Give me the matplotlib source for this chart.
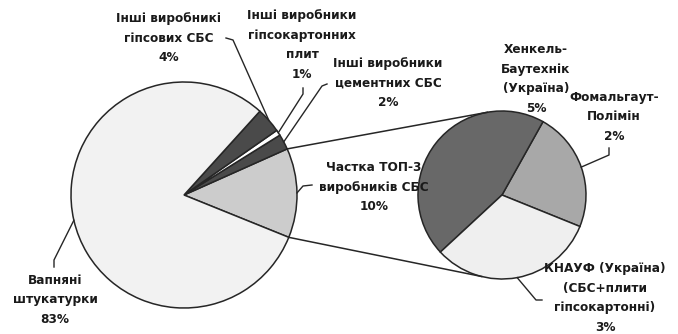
import numpy as np
import matplotlib.pyplot as plt

# main pie (percent of total); drawn shares as they appear in the picture
main_names = ["Частка ТОП-3\nвиробників СБС", "Інші виробники\nцементних СБС",
              "Інші виробники\nгіпсокартонних\nплит", "Інші виробникі\nгіпсових СБС",
              "Вапняні\nштукатурки"]
main_pct = [10, 2, 1, 4, 83]
main_share = [12.8, 2.2, 0.8, 3.6, 80.6]
main_colors = ["#cccccc", "#4a4a4a", "#ffffff", "#4a4a4a", "#f2f2f2"]

# second pie: breakdown of TOP-3
top_names = ["Фомальгаут-\nПолімін", "Хенкель-\nБаутехнік\n(Україна)",
             "КНАУФ (Україна)\n(СБС+плити\nгіпсокартонні)"]
top_pct = [2, 5, 3]
top_share = [2.3, 4.5, 3.2]
top_colors = ["#a8a8a8", "#686868", "#efefef"]

W, H = 678, 334
ec = "#262626"

def P(x, y):
    # pixel position (from top-left) -> data coords
    return x, H - y

fig = plt.figure(figsize=(W / 100, H / 100), dpi=100)
ax = fig.add_axes([0, 0, 1, 1])

c1, r1 = P(184, 195), 113
c2, r2 = P(502, 195), 84

w1, _ = ax.pie(main_share, colors=main_colors, startangle=-22, center=c1, radius=r1,
               wedgeprops=dict(edgecolor=ec, linewidth=1.1), frame=True)
w2, _ = ax.pie(top_share, colors=top_colors, startangle=-22, center=c2, radius=r2,
               wedgeprops=dict(edgecolor=ec, linewidth=1.1), frame=True)

def edge_pt(w, ang=None):
    if ang is None:
        ang = (w.theta1 + w.theta2) / 2
    cx, cy = w.center
    a = np.radians(ang)
    return cx + w.r * np.cos(a), cy + w.r * np.sin(a)

# connector lines between the two pies
top3 = w1[0]
for a1, a2 in [(top3.theta2, 100), (top3.theta1, 256)]:
    x0, y0 = edge_pt(top3, a1)
    x1, y1 = c2[0] + r2 * np.cos(np.radians(a2)), c2[1] + r2 * np.sin(np.radians(a2))
    ax.plot([x0, x1], [y0, y1], color=ec, lw=1.1)

font = dict(family="DejaVu Sans", weight="bold", size=8.7, color="#1a1a1a")

# label centres and leader start/knee (pixels)
main_pos = [(374, 187), (388, 83), (302, 45), (169, 38), (55, 300)]
main_lead = [[(312, 185), (303, 186)], [(327, 84), (322, 86)], [(303, 88), (303, 94)],
             [(226, 38), (233, 40)], [(54, 267), (54, 260)]]
for w, name, pct, pos, lead in zip(w1, main_names, main_pct, main_pos, main_lead):
    ax.text(*P(*pos), f"{name}\n{pct}%", ha="center", va="center",
            multialignment="center", linespacing=1.65, **font)
    pts = [P(*p) for p in lead] + [edge_pt(w)]
    ax.plot([p[0] for p in pts], [p[1] for p in pts], color=ec, lw=1.0)

top_pos = [(614, 117), (536, 79), (605, 298)]
top_lead = [[(609, 148), (609, 155)], None, [(542, 300), (536, 300)]]
for w, name, pct, pos, lead in zip(w2, top_names, top_pct, top_pos, top_lead):
    ax.text(*P(*pos), f"{name}\n{pct}%", ha="center", va="center",
            multialignment="center", linespacing=1.65, **font)
    if lead:
        pts = [P(*p) for p in lead] + [edge_pt(w)]
        ax.plot([p[0] for p in pts], [p[1] for p in pts], color=ec, lw=1.0)

ax.set_xlim(0, W)
ax.set_ylim(0, H)
ax.set_aspect("equal")
ax.axis("off")
fig.savefig("out.png", dpi=100, facecolor="white")
